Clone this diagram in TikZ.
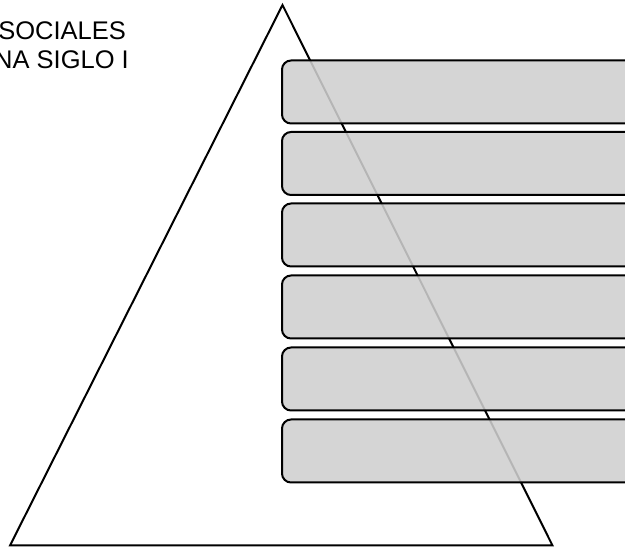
\documentclass[tikz,border=0pt]{standalone}
\usepackage{fontspec}
\setmainfont{Liberation Sans}
\begin{document}
\begin{tikzpicture}[x=1pt,y=-1pt,
  layer/.style={draw=black,line width=2pt,fill=black!19,fill opacity=0.88,draw opacity=1,rounded corners=9pt},
  title/.style={font=\fontsize{25.5}{29}\selectfont,inner sep=0pt,anchor=base east}]
\useasboundingbox (0,0) rectangle (625,548);
\clip (0,0) rectangle (625,548);
\coordinate (apex) at (282.5,5);
\coordinate (bl) at (10,545.5);
\coordinate (br) at (552.5,545.5);
\draw[line width=2pt,line join=miter] (apex) -- (br) -- (bl) -- cycle;
\foreach \i/\y in {1/60.5,2/132,3/203.5,4/275.5,5/347.5,6/419.5}{
  \draw[layer] (282,\y) rectangle (660,\y+63);
}
\node[title] (t1) at (126,40) {SOCIALES};
\node[title] (t2) at (129,68.5) {NA SIGLO I};
\end{tikzpicture}
\end{document}
